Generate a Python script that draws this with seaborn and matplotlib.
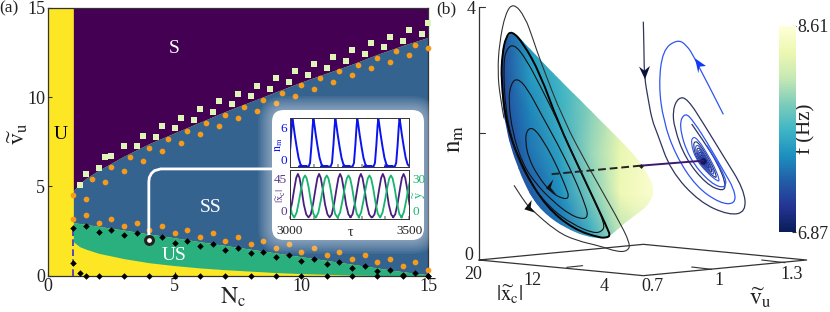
import numpy as np
import matplotlib
matplotlib.use("Agg")
import matplotlib.pyplot as plt
import seaborn as sns
from matplotlib.path import Path
from matplotlib.patches import PathPatch, FancyBboxPatch
from matplotlib.cm import ScalarMappable
from matplotlib.colors import Normalize

# panel (a): stability regions
nc_grid = [1, 1.25, 1.5, 2, 3, 4, 5, 6, 7, 8, 9, 10, 11, 12, 13, 14, 15]
s_edge = [4.75, 5.15, 5.45, 5.9, 6.7, 7.4, 8.0, 8.6, 9.2, 9.75, 10.3, 10.85, 11.35, 11.85, 12.4, 12.9, 13.35]
ss_edge = [2.97, 2.92, 2.87, 2.76, 2.55, 2.33, 2.12, 1.9, 1.69, 1.48, 1.27, 1.06, 0.85, 0.64, 0.43, 0.22, 0.05]
us_edge = [1.9, 1.62, 1.48, 1.25, 0.95, 0.72, 0.56, 0.43, 0.33, 0.25, 0.17, 0.11, 0.07, 0.03, 0.01, 0, 0]

square_x = [1.25, 1.5, 2, 2.25, 2.5, 3, 3.5, 3.75, 4.25, 4.5, 5, 5.25, 5.75, 6, 6.5, 6.75, 7.25, 7.5, 8,
            8.25, 8.75, 9, 9.5, 9.75, 10.25, 10.5, 11, 11.25, 11.75, 12, 12.5, 12.75, 13.25, 13.5, 14, 14.25, 14.75, 15]
square_y = [5.09, 5.70, 6.02, 6.62, 6.68, 7.28, 7.24, 7.84, 7.76, 8.36, 8.27, 8.86, 8.73, 9.33, 9.18, 9.78, 9.61,
            10.19, 10.04, 10.64, 10.45, 11.05, 10.87, 11.46, 11.26, 11.86, 11.65, 12.25, 12.03, 12.64, 12.42,
            13.02, 12.79, 13.39, 13.17, 13.76, 13.52, 14.14]

orange_up_x = [1, 1.5, 1.75, 2.25, 2.5, 3, 3.25, 3.75, 4, 4.5, 4.75, 5.25, 5.5, 6, 6.25, 6.75, 7, 7.5, 7.75,
               8.25, 8.5, 9, 9.25, 9.75, 10, 10.5, 10.75, 11.25, 11.5, 12, 12.25, 12.75, 13, 13.5, 13.75, 14.25, 14.5, 15]
orange_up_y = [4.49, 4.30, 5.42, 5.22, 6.06, 5.85, 6.66, 6.43, 7.16, 6.96, 7.65, 7.46, 8.12, 7.93, 8.58, 8.38,
               9.01, 8.81, 9.44, 9.24, 9.87, 9.67, 10.25, 10.06, 10.66, 10.45, 11.05, 10.85, 11.45, 11.22, 11.82,
               11.61, 12.19, 11.99, 12.57, 12.34, 12.94, 12.74]
orange_low_x = [1, 1.5, 2, 2.5, 3, 3.5, 4, 4.5, 5, 5.5, 6, 6.5, 7, 7.5, 8, 8.5, 9, 9.5, 10, 10.5, 11, 11.5,
                12, 12.5, 13, 13.5, 14, 14.5, 15]
orange_low_y = [3.18, 3.37, 2.97, 3.18, 2.79, 2.97, 2.56, 2.77, 2.36, 2.56, 2.15, 2.36, 1.96, 2.15, 1.76, 1.96,
                1.57, 1.76, 1.35, 1.55, 1.14, 1.35, 0.95, 1.14, 0.75, 0.95, 0.54, 0.75, 0.34]

diamond_x = [1, 1.5, 2, 2.5, 3, 3.5, 4, 4.5, 5, 5.5, 6, 6.5, 7, 7.5, 8, 8.5, 9, 9.5, 10, 10.5, 11, 11.5,
             12, 12.5, 13, 13.5, 14, 14.5, 15, 1, 1.25,
             1.5, 2, 3, 4, 5, 6, 7, 8, 9, 10, 11, 12, 13, 14, 15]
diamond_y = [2.66, 2.79, 2.47, 2.56, 2.28, 2.36, 2.04, 2.15, 1.85, 1.96, 1.65, 1.76, 1.46, 1.55, 1.25, 1.35,
             1.05, 1.14, 0.84, 0.95, 0.64, 0.75, 0.45, 0.54, 0.24, 0.34, 0.04, 0.13, 0, 0.69, 0.13,
             0, 0, 0, 0, 0, 0, 0, 0, 0, 0, 0, 0, 0, 0, 0]

link_x = [3.98, 3.98, 4.0, 4.08, 4.2, 4.45, 8.82]
link_y = [2.0, 5.25, 5.5, 5.72, 5.88, 5.98, 5.98]

# inset time series: peak times and one pulse around each peak
n_peaks = [3010, 3098, 3190, 3282, 3370, 3459]
n_dt = [-60, -20, -14, -8, -3, 0, 3, 10, 18, 26, 34, 42, 50, 60]
n_val = [0, 0, 0.5, 3, 5.6, 6.6, 6.1, 4.4, 2.7, 1.2, 0.3, 0.03, 0, 0]
x_peaks = [3033, 3122, 3210, 3297, 3389, 3476]
x_dt = [-44, -35, -25, -15, -7, 0, 7, 15, 25, 35, 44]
x_val = [1, 4, 15, 30, 41, 45, 41, 30, 14, 4, 1]
y_peaks = [2973, 3063, 3154, 3245, 3333, 3423, 3512]
y_dt = [-45, -35, -25, -15, -7, 0, 7, 15, 25, 35, 45]
y_val = [0.5, 4, 12, 21, 27, 29, 27, 21, 11, 3, 0.5]

# panel (b): projected curves in picture coordinates (x to the right, y downwards)
surf_x = [245, 280, 350, 440, 530, 600, 652, 674, 660, 610, 560, 530, 500, 440, 370, 310, 260, 225, 212, 214, 226]
surf_y = [92, 125, 200, 290, 380, 450, 518, 570, 612, 650, 690, 714, 716, 702, 662, 602, 500, 380, 260, 170, 118]
f_cols = [210, 300, 390, 480, 570, 670]
f_rows = [100, 220, 340, 460, 580, 715]
f_grid = [[7.25, 7.58, 7.72, 7.88, 8.09, 8.35],
          [7.18, 7.58, 7.74, 7.92, 8.18, 8.44],
          [7.15, 7.47, 7.70, 7.98, 8.30, 8.52],
          [7.08, 7.40, 7.62, 8.02, 8.37, 8.56],
          [7.05, 7.28, 7.52, 7.93, 8.40, 8.56],
          [7.00, 7.15, 7.34, 7.65, 8.12, 8.44]]
f_ticks = [6.87, 8.61]

outer_x = [252, 280, 300, 380, 440, 510, 560, 592, 602, 560, 480, 400, 330, 310, 285, 250, 226, 208, 203, 210, 222]
outer_y = [556, 600, 625, 695, 722, 738, 755, 754, 732, 650, 510, 360, 180, 120, 50, 8, 40, 130, 215, 290, 355]
rim_x = [530, 510, 430, 350, 280, 230, 213, 217, 228, 245, 280, 330, 385, 450, 535, 540, 530]
rim_y = [712, 714, 687, 622, 510, 380, 240, 160, 110, 92, 130, 220, 370, 510, 690, 708, 712]
loop1_x = [286, 290, 310, 342, 377, 407, 418, 402, 363, 323, 296]
loop1_y = [425, 390, 382, 425, 490, 560, 592, 598, 578, 527, 475]
loop2_x = [235, 243, 262, 292, 332, 382, 432, 468, 474, 457, 418, 368, 318, 278, 248]
loop2_y = [300, 250, 234, 265, 340, 430, 530, 620, 650, 658, 643, 603, 552, 492, 400]
loop3_x = [220, 230, 252, 287, 332, 377, 432, 492, 524, 518, 490, 428, 363, 298, 253, 226]
loop3_y = [190, 146, 132, 175, 260, 350, 470, 600, 672, 694, 700, 673, 627, 547, 450, 330]

navy_x = [640, 642, 643, 655, 666, 682, 722, 808, 897, 948, 942, 880, 825, 772, 745, 728, 733, 766, 828, 880, 888, 863, 822, 785]
navy_y = [65, 150, 230, 300, 360, 400, 512, 606, 646, 636, 568, 468, 378, 295, 292, 330, 385, 475, 552, 575, 552, 490, 425, 372]
blue_x = [880, 795, 770, 742, 698, 686, 700, 736, 798, 870, 916, 914, 878, 832, 792, 765, 746, 776, 843, 890, 884, 830]
blue_y = [343, 175, 135, 118, 150, 255, 362, 464, 560, 610, 612, 570, 508, 428, 366, 336, 375, 474, 552, 566, 520, 436]
ring_dx = [-58, -76, -48, 22, 88, 98, 68, 16, -28]
ring_dy = [-146, -114, -12, 72, 126, 116, 40, -54, -120]
ring_scale = [0.5, 0.41, 0.33, 0.27, 0.22, 0.18, 0.145, 0.115, 0.09, 0.07, 0.05, 0.035, 0.02]
focus = (820, 482)

arrow_black1 = ([348, 370, 362, 380], [565, 538, 563, 585])
arrow_black2 = ([283, 305, 302, 315], [628, 600, 622, 638])
arrow_navy = ([645, 627, 643, 660], [238, 200, 212, 198])
arrow_blue = ([795, 805, 808, 828], [175, 220, 200, 198])

floor_x = [147, 640, 1130, 640, 147]
floor_y = [780, 733, 780, 827, 780]
grid_segs = [([410, 458], [802, 797]), ([785, 845], [801, 808]), ([995, 1065], [780, 788]), ([147, 165], [22, 22]), ([147, 165], [400, 400])]


def curve(ax, xs, ys, closed=False, **kw):
    # points are used as control points of quadratic curves so the line stays round
    p = np.column_stack([xs, ys]).astype(float)
    mid = (p + np.roll(p, -1, axis=0)) / 2
    if closed:
        verts = [mid[-1]]
        codes = [Path.MOVETO]
        for i in range(len(p)):
            verts += [p[i], mid[i]]
            codes += [Path.CURVE3, Path.CURVE3]
    else:
        verts = [p[0]]
        codes = [Path.MOVETO]
        for i in range(1, len(p) - 1):
            verts += [p[i], mid[i] if i < len(p) - 2 else p[-1]]
            codes += [Path.CURVE3, Path.CURVE3]
    patch = PathPatch(Path(verts, codes), fill=False, **kw)
    ax.add_patch(patch)
    return patch


sns.set_theme(style="ticks")
plt.rcParams["font.family"] = ["Liberation Serif", "DejaVu Serif"]
plt.rcParams["mathtext.fontset"] = "stix"
plt.rcParams["axes.edgecolor"] = "#333333"
plt.rcParams["xtick.color"] = "#333333"
plt.rcParams["ytick.color"] = "#333333"

W, H = 830, 312
fig = plt.figure(figsize=(W / 100, H / 100), dpi=100)
FS = 13

# ---------- panel (a)
ax = fig.add_axes([48 / W, 1 - 275.6 / H, 380 / W, 267.6 / H])
ax.set_zorder(1)
ax.set_facecolor("#fde725")
ax.fill_between(nc_grid, s_edge, 15, color="#440154", lw=0)
ax.fill_between(nc_grid, ss_edge, s_edge, color="#35638f", lw=0)
ax.fill_between(nc_grid, us_edge, ss_edge, color="#2ab07f", lw=0)
ax.set_xlim(0, 15)
ax.set_ylim(0, 15)
ax.set_xticks([0, 5, 10, 15])
ax.set_yticks([0, 5, 10, 15])
ax.tick_params(direction="in", length=3, width=0.8, labelsize=FS, pad=2, labelcolor="#222222")
for sp in ax.spines.values():
    sp.set_linewidth(0.9)

ax.plot([1, 1], [0, 2.7], color="#3b2fc9", lw=1.2, ls=(0, (4, 2)), zorder=3)
sns.scatterplot(x=square_x, y=square_y, marker="s", s=16, color="#dff5b8", linewidth=0, clip_on=False, zorder=5, ax=ax, legend=False)
sns.scatterplot(x=orange_up_x, y=orange_up_y, marker="o", s=17, color="#f59a1b", linewidth=0, clip_on=False, zorder=5, ax=ax, legend=False)
sns.scatterplot(x=orange_low_x, y=orange_low_y, marker="o", s=17, color="#f59a1b", linewidth=0, clip_on=False, zorder=5, ax=ax, legend=False)
sns.scatterplot(x=diamond_x, y=diamond_y, marker="D", s=11, color="black", linewidth=0, clip_on=False, zorder=5, ax=ax, legend=False)
sns.lineplot(x=link_x, y=link_y, sort=False, estimator=None, color="white", lw=2, zorder=6, ax=ax, legend=False)
sns.scatterplot(x=[4], y=[2], marker="o", s=32, color="white", edgecolor="#222222", linewidth=2.2, zorder=7, ax=ax, legend=False)

ax.text(5, 12.75, "S", color="white", fontsize=14, ha="center", va="center")
ax.text(0.5, 7.9, "U", color="black", fontsize=14, ha="center", va="center")
ax.text(6.43, 3.83, "SS", color="white", fontsize=14, ha="center", va="center")
ax.text(4.97, 1.1, "US", color="white", fontsize=14, ha="center", va="center")

# overlay in pixels for the inset card and free labels
over = fig.add_axes([0, 0, 1, 1])
over.set_zorder(2)
over.set_xlim(0, W)
over.set_ylim(H, 0)
over.axis("off")
for pad in np.arange(26, 12, -1.5):
    over.add_patch(FancyBboxPatch((284, 122), 128, 106, boxstyle=f"round,pad={pad},rounding_size={pad}", fc="white", ec="none", alpha=0.05))
over.add_patch(FancyBboxPatch((284, 122), 128, 106, boxstyle="round,pad=12,rounding_size=12", fc="white", ec="none"))

over.text(9, 8, "(a)", fontsize=12.5, ha="center", va="center", color="#222222")
over.text(446, 9, "(b)", fontsize=12.5, ha="center", va="center", color="#222222")
over.text(18, 134, r"$\widetilde{\mathrm{v}}_{\mathrm{u}}$", fontsize=17, rotation=90, ha="center", va="center", color="#222222")
over.text(233, 297, r"$\mathrm{N_c}$", fontsize=17, ha="center", va="center", color="#222222")

# inset time series
ins_n = fig.add_axes([290 / W, 1 - 167.3 / H, 119.3 / W, 49 / H])
ins_x = fig.add_axes([290 / W, 1 - 219.3 / H, 119.3 / W, 49.3 / H])
ins_y = ins_x.twinx()
for a in (ins_n, ins_x, ins_y):
    a.set_zorder(3)
    a.patch.set_visible(False)
ins_y.set_zorder(4)

n_t = np.concatenate([np.array(n_dt) + p for p in n_peaks])
n_v = np.tile(n_val, len(n_peaks))
x_t = np.concatenate([np.array(x_dt) + p for p in x_peaks])
x_v = np.tile(x_val, len(x_peaks))
y_t = np.concatenate([np.array(y_dt) + p for p in y_peaks])
y_v = np.tile(y_val, len(y_peaks))
sns.lineplot(x=n_t, y=n_v, sort=False, estimator=None, color="#0b14ee", lw=1.4, ax=ins_n, legend=False)
sns.lineplot(x=x_t, y=x_v, sort=False, estimator=None, color="#47207f", lw=1.3, ax=ins_x, legend=False)
sns.lineplot(x=y_t, y=y_v, sort=False, estimator=None, color="#16b46c", lw=1.3, ax=ins_y, legend=False)

ins_n.set_xlim(3000, 3500)
ins_n.set_ylim(-0.1, 6.7)
ins_n.set_yticks([0, 6])
ins_n.set_xticks([3100, 3200, 3300, 3400])
ins_n.set_xticklabels([])
ins_x.set_xlim(3000, 3500)
ins_x.set_ylim(-1, 49)
ins_x.set_yticks([0, 45])
ins_x.set_xticks([3000, 3100, 3200, 3300, 3400, 3500])
ins_x.set_xticklabels(["3000", "", "", "", "", "3500"])
ins_y.set_ylim(-0.7, 32.7)
ins_y.set_yticks([0, 30])
ins_n.tick_params(axis="y", length=0, labelsize=9.5, labelcolor="#0b14ee", pad=2)
ins_x.tick_params(axis="y", length=0, labelsize=9.5, labelcolor="#5b3a8c", pad=2)
ins_y.tick_params(axis="y", length=0, labelsize=9.5, labelcolor="#16b46c", pad=2)
ins_n.tick_params(axis="x", direction="in", length=2, color="#999999")
ins_x.tick_params(axis="x", direction="in", length=2, color="#999999", labelsize=9.5, labelcolor="#222222", pad=4)
for a in (ins_n, ins_x, ins_y):
    lo, hi = a.get_yticklabels()
    lo.set_va("bottom")
    hi.set_va("top")
    for sp in a.spines.values():
        sp.set_linewidth(0.7)
    a.set_xlabel("")
    a.set_ylabel("")
ins_lab = fig.add_axes([0, 0, 1, 1])
ins_lab.set_zorder(5)
ins_lab.set_xlim(0, W)
ins_lab.set_ylim(H, 0)
ins_lab.axis("off")
ins_lab.text(279, 145, r"$\mathrm{n_m}$", color="#0b14ee", fontsize=8.5, rotation=90, ha="center", va="center")
ins_lab.text(281, 195, r"$|\widetilde{\mathrm{x}}_{\mathrm{c}}|$", color="#5b3a8c", fontsize=8, rotation=90, ha="center", va="center")
ins_lab.text(420, 195, r"$\widetilde{\mathrm{y}}$", color="#16b46c", fontsize=9, rotation=90, ha="center", va="center")
ins_lab.text(350, 233, "τ", color="#222222", fontsize=10, ha="center", va="center", family=["Liberation Serif", "DejaVu Sans"])

# ---------- panel (b)
bx = fig.add_axes([430 / W, 0, 400 / W, 1])
bx.set_zorder(6)
bx.patch.set_visible(False)
bx.set_xlim(0, 1200)
bx.set_ylim(936, 0)
bx.axis("off")

cmap = sns.color_palette("YlGnBu_r", as_cmap=True)
mesh = bx.pcolormesh(f_cols, f_rows, np.array(f_grid), cmap=cmap, vmin=f_ticks[0], vmax=f_ticks[1], shading="gouraud", zorder=2)
surf_patch = curve(bx, surf_x, surf_y, closed=True, lw=0, zorder=2)
mesh.set_clip_path(surf_patch)

sns.lineplot(x=[147, 147], y=[20, 780], sort=False, estimator=None, color="#333333", lw=0.9, ax=bx, legend=False, zorder=1)
sns.lineplot(x=floor_x, y=floor_y, sort=False, estimator=None, color="#333333", lw=0.9, ax=bx, legend=False, zorder=1)
for sx, sy in grid_segs:
    bx.plot(sx, sy, color="#333333", lw=0.8, zorder=1)

curve(bx, outer_x, outer_y, color="#333333", lw=0.8, zorder=4)
curve(bx, rim_x, rim_y, closed=True, color="black", lw=1.4, zorder=4)
for lx, ly in ((loop1_x, loop1_y), (loop2_x, loop2_y), (loop3_x, loop3_y)):
    curve(bx, lx, ly, closed=True, color="#111111", lw=0.8, zorder=4)

curve(bx, navy_x, navy_y, color="#2d3560", lw=0.9, zorder=3)
curve(bx, blue_x, blue_y, color="#2f55f0", lw=0.9, zorder=3)
for i, sc in enumerate(ring_scale):
    col = "#2d3560" if i % 2 else "#2f55f0"
    curve(bx, focus[0] + sc * np.array(ring_dx), focus[1] + sc * np.array(ring_dy), closed=True, color=col, lw=0.8, zorder=3)
sns.scatterplot(x=[focus[0]], y=[focus[1]], marker="o", s=22, color="#0c1a5e", linewidth=0, ax=bx, legend=False, zorder=3)

bx.plot([820, 632], [482, 497], color="#3b1a6e", lw=1.4, zorder=5)
bx.plot([632, 360], [497, 523], color="#222222", lw=1.4, ls=(0, (4, 2)), zorder=5)
sns.scatterplot(x=[632], y=[497], marker="D", s=6, color="#222222", linewidth=0, ax=bx, legend=False, zorder=6)

bx.fill(*arrow_black1, color="#111111", lw=0, zorder=6)
bx.fill(*arrow_black2, color="#111111", lw=0, zorder=6)
bx.fill(*arrow_navy, color="#0b1038", lw=0, zorder=6)
bx.fill(*arrow_blue, color="#1237f5", lw=0, zorder=6)

for lab, lx, ly in (("4", 122, 30), ("0", 115, 768), ("20", 130, 823), ("12", 308, 842), ("4", 523, 860),
                    ("0.7", 666, 860), ("1", 867, 842), ("1.3", 1085, 823)):
    bx.text(lx, ly, lab, fontsize=FS, ha="center", va="center", color="#222222")
bx.text(75, 415, r"$\mathrm{n_m}$", fontsize=18, rotation=90, ha="center", va="center", color="#222222")
bx.text(240, 885, r"$|\widetilde{\mathrm{x}}_{\mathrm{c}}|$", fontsize=15, ha="center", va="center", color="#222222")
bx.text(990, 893, r"$\widetilde{\mathrm{v}}_{\mathrm{u}}$", fontsize=17, ha="center", va="center", color="#222222")

# colorbar
cax = fig.add_axes([779.3 / W, 1 - 232.3 / H, 16.4 / W, 206.6 / H])
cax.set_zorder(7)
cb = fig.colorbar(ScalarMappable(Normalize(f_ticks[0], f_ticks[1]), cmap), cax=cax)
cb.set_ticks(f_ticks)
cb.set_ticklabels(["6.87", "8.61"])
cb.outline.set_visible(False)
cax.tick_params(length=3, width=0.8, labelsize=FS, pad=1, direction="in", labelcolor="#222222")
bx.text(1127, 385, "f (Hz)", fontsize=15, rotation=90, ha="center", va="center", color="#222222")

fig.savefig("out.png", dpi=100)
